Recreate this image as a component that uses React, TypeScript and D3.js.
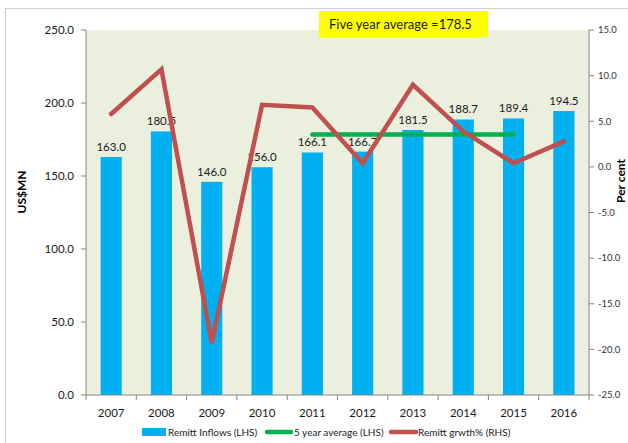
import React from "react";
import * as d3 from "d3";

const years = ["2007", "2008", "2009", "2010", "2011", "2012", "2013", "2014", "2015", "2016"];
const inflows = [163.0, 180.5, 146.0, 156.0, 166.1, 166.7, 181.5, 188.7, 189.4, 194.5];
const growth = [5.8, 10.7, -19.3, 6.8, 6.5, 0.4, 9.0, 3.9, 0.4, 2.8];
const avgYears = ["2011", "2012", "2013", "2014", "2015"];
const avgValue = 178.5;
const leftTicks = [0, 50, 100, 150, 200, 250];
const rightTicks = [15, 10, 5, 0, -5, -10, -15, -20, -25];

const W = 628, H = 443;
const M = { left: 86, right: 589, top: 30, bottom: 395 };
const FONT = "Lato, 'Open Sans', sans-serif";

export default function App() {
  const x = d3.scaleBand().domain(years).range([M.left, M.right]).paddingInner(0.58).paddingOuter(0.29);
  const xb = d3.scaleBand().domain(years).range([M.left, M.right]);
  const yL = d3.scaleLinear().domain([0, 250]).range([M.bottom, M.top]);
  const yR = d3.scaleLinear().domain([-25, 15]).range([M.bottom, M.top]);
  const cx = (d: string) => (xb(d) as number) + xb.bandwidth() / 2;

  const growthLine = d3.line<number>().x((_, i) => cx(years[i])).y((d) => yR(d))(growth) as string;
  const avgLine = d3.line<string>().x((d) => cx(d)).y(() => yL(avgValue))(avgYears) as string;

  const axisColor = "#868686";

  return (
    <svg width={W} height={H} style={{ position: "absolute", left: 0, top: 0 }} fontFamily={FONT}>
      <rect x={0} y={0} width={W} height={H} fill="#fff" />
      <rect x={5.5} y={8.5} width={W + 10} height={H + 10} fill="none" stroke="#d0d0d0" strokeWidth={1} />
      <rect x={M.left} y={M.top} width={M.right - M.left} height={M.bottom - M.top} fill="#ebf0de" />

      {years.map((yr, i) => (
        <rect key={yr} x={x(yr)} y={yL(inflows[i])} width={x.bandwidth()} height={M.bottom - yL(inflows[i])} fill="#00b0f0" />
      ))}

      {years.map((yr, i) => (
        <text key={"l" + yr} x={cx(yr)} y={yL(inflows[i]) - 6} textAnchor="middle" fontSize={11.5} fill="#1a1a1a">
          {inflows[i].toFixed(1)}
        </text>
      ))}

      <path d={avgLine} fill="none" stroke="#00b050" strokeWidth={4.5} strokeLinecap="round" />
      <path d={growthLine} fill="none" stroke="#c0504d" strokeWidth={4.5} strokeLinejoin="miter" strokeLinecap="round" />

      {/* left axis */}
      <line x1={M.left} x2={M.left} y1={M.top} y2={M.bottom} stroke={axisColor} />
      {leftTicks.map((t) => (
        <g key={"lt" + t}>
          <line x1={M.left - 5} x2={M.left} y1={yL(t)} y2={yL(t)} stroke={axisColor} />
          <text x={M.left - 12} y={yL(t)} dy="0.35em" textAnchor="end" fontSize={11.5} fill="#1a1a1a">
            {t.toFixed(1)}
          </text>
        </g>
      ))}

      {/* right axis */}
      <line x1={M.right} x2={M.right} y1={M.top} y2={M.bottom} stroke={axisColor} />
      {rightTicks.map((t) => (
        <g key={"rt" + t}>
          <line x1={M.right} x2={M.right + 5} y1={yR(t)} y2={yR(t)} stroke={axisColor} />
          <text x={M.right + 9} y={yR(t)} dy="0.35em" textAnchor="start" fontSize={9.5} fill="#333">
            {t.toFixed(1)}
          </text>
        </g>
      ))}

      {/* x axis */}
      <line x1={M.left} x2={M.right} y1={M.bottom} y2={M.bottom} stroke={axisColor} />
      {years.map((yr) => (
        <line key={"xt" + yr} x1={xb(yr) as number} x2={xb(yr) as number} y1={M.bottom} y2={M.bottom + 5} stroke={axisColor} />
      ))}
      <line x1={M.right} x2={M.right} y1={M.bottom} y2={M.bottom + 5} stroke={axisColor} />
      {years.map((yr) => (
        <text key={"xl" + yr} x={cx(yr)} y={413} dy="0.35em" textAnchor="middle" fontSize={11.5} fill="#1a1a1a">
          {yr}
        </text>
      ))}

      {/* axis titles */}
      <text transform="translate(22,192) rotate(-90)" textAnchor="middle" dy="0.35em" fontSize={12} fontWeight="bold" fill="#000">
        US$MN
      </text>
      <text transform="translate(621,181) rotate(-90)" textAnchor="middle" dy="0.35em" fontSize={12} fontWeight="bold" fill="#000">
        Per cent
      </text>

      {/* annotation */}
      <rect x={319} y={11} width={169} height={26} fill="#ffff00" />
      <text x={329} y={24.5} dy="0.35em" fontSize={13} fill="#1a1a1a">
        Five year average =178.5
      </text>

      {/* legend */}
      <rect x={142} y={428} width={24} height={8} fill="#00b0f0" />
      <text x={168} y={432} dy="0.35em" fontSize={10} fill="#1a1a1a">Remitt Inflows (LHS)</text>
      <line x1={267} x2={291} y1={432} y2={432} stroke="#00b050" strokeWidth={4.5} strokeLinecap="round" />
      <text x={294} y={432} dy="0.35em" fontSize={10} fill="#1a1a1a">5 year average (LHS)</text>
      <line x1={391} x2={416} y1={432} y2={432} stroke="#c0504d" strokeWidth={4.5} strokeLinecap="round" />
      <text x={418} y={432} dy="0.35em" fontSize={10} fill="#1a1a1a">Remitt grwth% (RHS)</text>
    </svg>
  );
}
